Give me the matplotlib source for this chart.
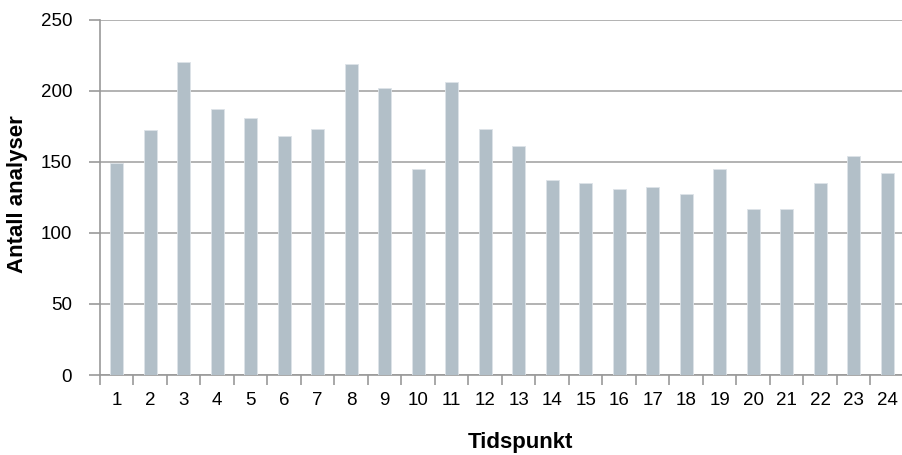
import matplotlib
matplotlib.use("Agg")
import matplotlib.pyplot as plt
import numpy as np

# Antall analyser per tidspunkt
tidspunkt = [str(i) for i in range(1, 25)]
antall = [149, 172, 220, 187, 181, 168, 173, 219, 202, 145, 206, 173,
          161, 137, 135, 131, 132, 127, 145, 117, 117, 135, 154, 142]
y_ticks = [0, 50, 100, 150, 200, 250]

plt.rcParams["font.family"] = ["Liberation Sans", "DejaVu Sans"]

fig = plt.figure(figsize=(9.03, 4.55), dpi=100)
ax = fig.add_axes([100 / 903, 80 / 455, 804 / 903, 355.5 / 455])

x = np.arange(len(antall))
ax.bar(x, antall, width=0.4, color="#b2bfc8", edgecolor="#dde3e8",
       linewidth=0.6, zorder=3)

ax.set_xlim(-0.5, len(antall) - 0.5)
ax.set_ylim(0, 250)
ax.set_yticks(y_ticks)
ax.yaxis.grid(True, color="#a6a6a6", linewidth=1.2, zorder=0)
ax.set_axisbelow(True)

# x ticks: labels centred under bars, tick marks between categories
ax.set_xticks(x)
ax.set_xticklabels(tidspunkt)
ax.set_xticks(np.arange(-0.5, len(antall), 1), minor=True)
ax.tick_params(axis="x", which="major", length=0, pad=12, labelsize=13.5)
ax.tick_params(axis="x", which="minor", length=7, width=1.2, color="#999999")
ax.tick_params(axis="y", length=8, width=1.2, color="#999999", pad=12,
               labelsize=13.5)

for side in ["top", "right"]:
    ax.spines[side].set_visible(False)
for side in ["left", "bottom"]:
    ax.spines[side].set_color("#999999")
    ax.spines[side].set_linewidth(1.2)

ax.set_ylabel("Antall analyser", fontsize=16, fontweight="bold")
ax.yaxis.set_label_coords(-0.09, 0.51)
ax.set_xlabel("Tidspunkt", fontsize=16, fontweight="bold")
ax.xaxis.set_label_coords(0.523, -0.16)

fig.savefig("out.png", dpi=100)
